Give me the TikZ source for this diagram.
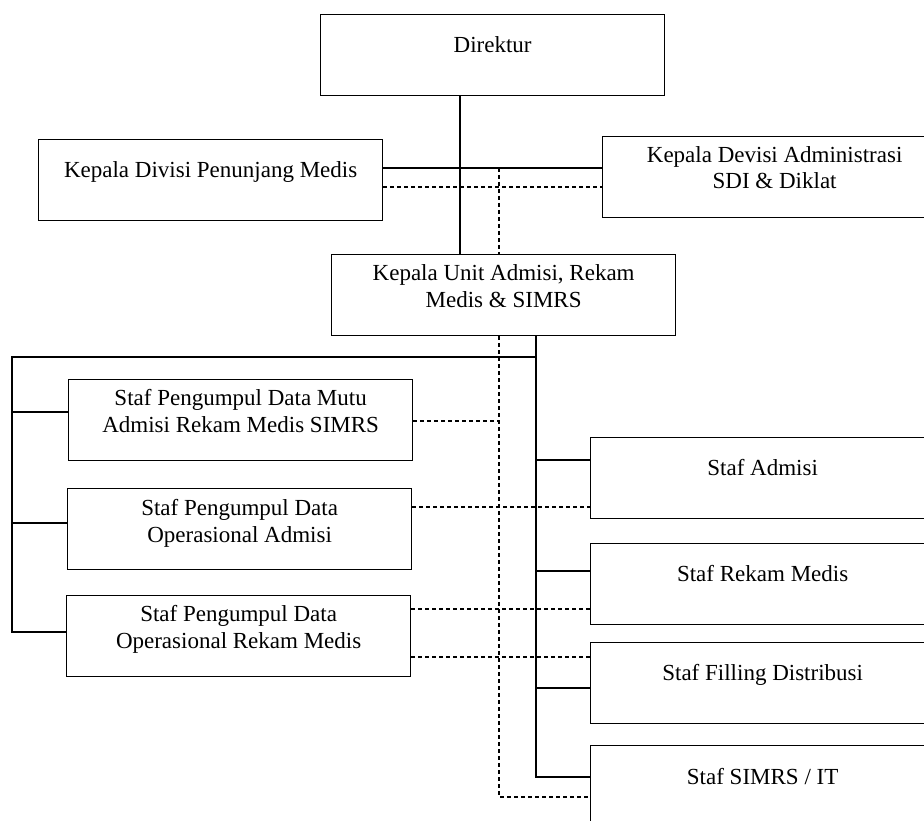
\documentclass[tikz,border=0pt]{standalone}
\usepackage{fontspec}
\setmainfont{Liberation Serif}
\usetikzlibrary{backgrounds}
\begin{document}
\begin{tikzpicture}[x=1pt,y=-1pt,
  box/.style={draw, line width=1.3pt, fill=white, minimum width=344pt, minimum height=81pt, inner sep=0pt, anchor=north west},
  txt/.style={font=\fontsize{23}{26.5}\selectfont, align=center, inner sep=0pt, anchor=base},
  conn/.style={line width=1.2pt},
  dsh/.style={line width=1.2pt, dash pattern=on 4pt off 3pt}]
\useasboundingbox (0,0) rectangle (924,821);
\clip (0,0) rectangle (924,821);
% boxes
\node[box] (dir) at (320,14) {};
\node[box] (kdiv) at (38,139) {};
\node[box] (kadm) at (602,136) {};
\node[box] (kunit) at (331,254) {};
\node[box] (mutu) at (68,379) {};
\node[box] (opadm) at (67,488) {};
\node[box] (oprm) at (66,595) {};
\node[box] (sadm) at (590,437) {};
\node[box] (srm) at (590,543) {};
\node[box] (sfil) at (590,642) {};
\node[box] (ssim) at (590,745) {};
% texts (anchored on the baseline of the last line)
\node[txt] (tdir) at ([yshift=-38.5pt]dir.north) {Direktur};
\node[txt] (tkdiv) at ([yshift=-38.5pt]kdiv.north) {Kepala Divisi Penunjang Medis};
\node[txt] (tkadm) at ([yshift=-53pt]kadm.north) {Kepala Devisi Administrasi\\SDI \& Diklat};
\node[txt] (tkunit) at ([yshift=-53pt]kunit.north) {Kepala Unit Admisi, Rekam\\Medis \& SIMRS};
\node[txt] (tmutu) at ([yshift=-53pt]mutu.north) {Staf Pengumpul Data Mutu\\Admisi Rekam Medis SIMRS};
\node[txt] (topadm) at ([yshift=-54pt]opadm.north) {Staf Pengumpul Data\\Operasional Admisi};
\node[txt] (toprm) at ([yshift=-53pt]oprm.north) {Staf Pengumpul Data\\Operasional Rekam Medis};
\node[txt] (tsadm) at ([yshift=-38pt]sadm.north) {Staf Admisi};
\node[txt] (tsrm) at ([yshift=-38pt]srm.north) {Staf Rekam Medis};
\node[txt] (tsfil) at ([yshift=-38pt]sfil.north) {Staf Filling Distribusi};
\node[txt] (tssim) at ([yshift=-39pt]ssim.north) {Staf SIMRS / IT};
% reference coordinates
\coordinate (tr) at (460,0);
\coordinate (dv) at (499,0);
\coordinate (sv) at (536,0);
\coordinate (lv) at (12,0);
\coordinate (hA) at (0,168);
\coordinate (hB) at (0,187);
\coordinate (hL) at (0,357);
\coordinate (l1) at (0,412);
\coordinate (l2) at (0,523);
\coordinate (l3) at (0,632);
\coordinate (r1) at (0,460);
\coordinate (r2) at (0,571);
\coordinate (r3) at (0,688);
\coordinate (r4) at (0,777);
\coordinate (d1) at (0,421);
\coordinate (d2) at (0,507);
\coordinate (d3) at (0,609);
\coordinate (d4) at (0,657);
\coordinate (d5) at (0,797);
\begin{pgfonlayer}{background}
\draw[conn] (dir.south -| tr) -- (kunit.north -| tr);
\draw[conn] (kdiv.east |- hA) -- (kadm.west |- hA);
\draw[dsh] (kdiv.east |- hB) -- (kadm.west |- hB);
\draw[dsh] (dv |- hA) -- (dv |- d5) -- (ssim.west |- d5);
\draw[conn] (kunit.south -| sv) -- (sv |- r4) -- (ssim.west |- r4);
\draw[conn] (sv |- hL) -- (lv |- hL) -- (lv |- l3) -- (oprm.west |- l3);
\draw[conn] (lv |- l1) -- (mutu.west |- l1);
\draw[conn] (lv |- l2) -- (opadm.west |- l2);
\draw[conn] (sv |- r1) -- (sadm.west |- r1);
\draw[conn] (sv |- r2) -- (srm.west |- r2);
\draw[conn] (sv |- r3) -- (sfil.west |- r3);
\draw[dsh] (mutu.east |- d1) -- (dv |- d1);
\draw[dsh] (opadm.east |- d2) -- (sadm.west |- d2);
\draw[dsh] (oprm.east |- d3) -- (srm.west |- d3);
\draw[dsh] (oprm.east |- d4) -- (sfil.west |- d4);
\end{pgfonlayer}
\end{tikzpicture}
\end{document}
